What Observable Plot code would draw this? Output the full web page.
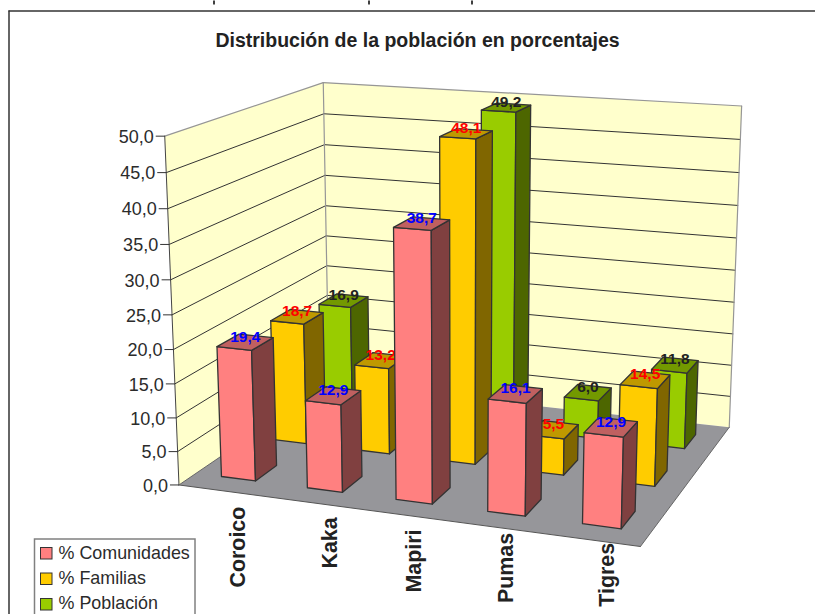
<!DOCTYPE html>
<html lang="es">
<head>
<meta charset="utf-8">
<script src="https://cdn.jsdelivr.net/npm/d3@7"></script>
<script src="https://cdn.jsdelivr.net/npm/@observablehq/plot@0.6"></script>
<style>html,body{margin:0;padding:0;background:#fff}svg{display:block}</style>
</head>
<body>
<div id="chart"></div>
<script>
// ---- data
const categories = ["Coroico", "Kaka", "Mapiri", "Pumas", "Tigres"];
const seriesNames = ["% Comunidades", "% Familias", "% Población"];
const comunidades = [19.4, 12.9, 38.7, 16.1, 12.9];
const familias = [18.7, 13.2, 48.1, 5.5, 14.5];
const poblacion = [16.9, 16.1, 49.2, 6.0, 11.8];
const yTicks = [0, 5, 10, 15, 20, 25, 30, 35, 40, 45, 50];
const title = "Distribución de la población en porcentajes";

// ---- styles
const W = 815, H = 614;
const font = "Liberation Sans, Arial, Helvetica, sans-serif";
const ink = "#2b2b2b";
const seriesFaces = [
  {front: "#FF8080", side: "#804040", top: "#C06060", label: "#0000FF"},
  {front: "#FFCC00", side: "#806600", top: "#BF9900", label: "#FF0000"},
  {front: "#99CC00", side: "#4D6600", top: "#739900", label: "#222222"}
];
// remains of a line of text cropped away above the frame: only three stems are left
const cropStems = [213.5, 368.5, 471.5];
const catNudge = [[16,16],[21,15],[14,15],[12,6],[16,3]];

// ---- perspective camera of the 3-D box, fitted to box and bar corners: [u, v, h] -> [px, py]
const calib = [
  [0,0,0,179,487],[1,0,0,639,546],[1,1,0,729,429],[0,1,0,328,380],
  [0,0,1,164,135],[1,1,1,741,105],[0,1,1,323,83],
  [.86,.1,.258,583,432],[.86,.1,0,581,522],[.94,.1,.258,624,437],[.94,.1,0,622,527],
  [.46,.1,.774,393,227]
];
function fitCamera(pts) {
  const A = [], b = [];
  for (const [X,Y,Z,x,y] of pts) {
    A.push([X,Y,Z,1,0,0,0,0,-x*X,-x*Y,-x*Z]); b.push(x);
    A.push([0,0,0,0,X,Y,Z,1,-y*X,-y*Y,-y*Z]); b.push(y);
  }
  const n = 11, M = [];
  for (let i = 0; i < n; i++) {
    const row = [];
    for (let j = 0; j < n; j++) row.push(d3.sum(A, r => r[i]*r[j]));
    row.push(d3.sum(A, (r,k) => r[i]*b[k]));
    M.push(row);
  }
  for (let i = 0; i < n; i++) {
    let p = i;
    for (let r = i+1; r < n; r++) if (Math.abs(M[r][i]) > Math.abs(M[p][i])) p = r;
    [M[i],M[p]] = [M[p],M[i]];
    for (let r = 0; r < n; r++) if (r !== i) {
      const f = M[r][i]/M[i][i];
      for (let c = i; c <= n; c++) M[r][c] -= f*M[i][c];
    }
  }
  return M.map((r,i) => r[n]/r[i]);
}
const cam = fitCamera(calib);
const hOf = d3.scaleLinear([0, 50], [0, 1]);
function project(u, v, value) {
  const h = hOf(value);
  const w = cam[8]*u + cam[9]*v + cam[10]*h + 1;
  return [(cam[0]*u + cam[1]*v + cam[2]*h + cam[3])/w, (cam[4]*u + cam[5]*v + cam[6]*h + cam[7])/w];
}
const poly = (corners, id, fill) =>
  [...corners, corners[0]].map(([u,v,val]) => { const [x,y] = project(u,v,val); return {x,y,id,fill}; });
const faceMark = (rows, stroke, strokeWidth) =>
  Plot.line(rows, {x:"x", y:"y", z:"id", fill:"fill", stroke: stroke ?? "none", strokeWidth: strokeWidth ?? 1, strokeLinejoin:"round"});

// ---- box
const yMax = d3.max(yTicks);
const walls = [
  faceMark(poly([[0,0,0],[0,1,0],[0,1,yMax],[0,0,yMax]],"leftWall","#FFFFCC")),
  faceMark(poly([[0,1,0],[1,1,0],[1,1,yMax],[0,1,yMax]],"backWall","#FFFFCC")),
  faceMark(poly([[0,0,0],[1,0,0],[1,1,0],[0,1,0]],"floor","#96969A"))
];
const seg = (a, b, stroke, strokeWidth) => Plot.line([project(...a), project(...b)], {x:d=>d[0], y:d=>d[1], stroke, strokeWidth});
const grid = yTicks.filter(t => t > 0).flatMap(t => t < yMax ? [
  seg([0,0,t],[0,1,t],"#333",1), seg([0,1,t],[1,1,t],"#333",1)
] : [
  seg([0,0,t],[0,1,t],"#969696",1.2), seg([0,1,t],[1,1,t],"#969696",1.2)
]);
const edges = [
  seg([0,0,0],[0,0,yMax],"#444",1),
  seg([0,1,0],[0,1,yMax],"#969696",1.2),
  seg([1,1,0],[1,1,yMax],"#969696",1.2),
  seg([0,0,0],[1,0,0],"#555",1),
  seg([0,0,0],[0,1,0],"#666",1),
  seg([1,0,0],[1,1,0],"#666",1)
];
const tickRows = yTicks.map(t => { const [x,y] = project(0,0,t); return {t,x,y}; });
const yAxis = [
  Plot.link(tickRows, {x1:d=>d.x-9, x2:"x", y1:"y", y2:"y", stroke:"#333", strokeWidth:1}),
  Plot.text(tickRows, {x:"x", y:"y", dx:-11, dy:1, text:d=>d.t.toFixed(1).replace(".",","), textAnchor:"end", lineAnchor:"middle", fontSize:18, fontFamily:font, fill:ink})
];

// ---- bars, painted from the back row to the front row
const rows = [comunidades, familias, poblacion];
const gapU = 0.3, gapV = 0.3;
function barMarks(value, i, j) {
  const u0 = (i+gapU)/categories.length, u1 = (i+1-gapU)/categories.length;
  const v0 = (j+gapV)/rows.length, v1 = (j+1-gapV)/rows.length;
  const c = seriesFaces[j], id = `${j}-${i}`;
  const faces = [
    ...poly([[u0,v0,0],[u1,v0,0],[u1,v0,value],[u0,v0,value]], id+"f", c.front),
    ...poly([[u1,v0,0],[u1,v1,0],[u1,v1,value],[u1,v0,value]], id+"s", c.side),
    ...poly([[u0,v0,value],[u1,v0,value],[u1,v1,value],[u0,v1,value]], id+"t", c.top)
  ];
  const [lx, ly] = project((u0+u1)/2, (v0+v1)/2, value);
  return [
    faceMark(faces, "#333", 1.3),
    Plot.text([{lx, ly, value}], {x:"lx", y:"ly", dy:-5.5, text:d=>d.value.toFixed(1).replace(".",","), lineAnchor:"middle", textAnchor:"middle", fontSize:15.5, fontWeight:"bold", fontFamily:font, fill:c.label})
  ];
}
const bars = d3.range(rows.length).reverse().flatMap(j => rows[j].map((v,i) => barMarks(v,i,j))).flat();

// ---- category labels under the front edge
const catRows = categories.map((name,i) => {
  const [x,y] = project((i+0.5)/categories.length, 0, 0);
  return {name, x: x + catNudge[i][0], y: y + catNudge[i][1]};
});
const catMark = Plot.text(catRows, {x:"x", y:"y", text:"name", rotate:-90, textAnchor:"end", lineAnchor:"middle", fontSize:21.4, fontWeight:"bold", fontFamily:font, fill:"#222"});

// ---- legend
const legendRows = seriesNames.map((name,k) => ({name, k, fill: seriesFaces[k].front}));
const legend = [
  Plot.rect([0], {x1:()=>34.5, x2:()=>195, y1:()=>539, y2:()=>640, fill:"#fff", stroke:"#808080", strokeWidth:1.5}),
  Plot.rect(legendRows, {x1:()=>40.5, x2:()=>52, y1:d=>547.5+d.k*25.5, y2:d=>559+d.k*25.5, fill:"fill", stroke:"#333", strokeWidth:1}),
  Plot.text(legendRows, {x:()=>58, y:d=>553+d.k*25, text:"name", textAnchor:"start", lineAnchor:"middle", fontSize:17.9, fontFamily:font, fill:ink})
];

const plot = Plot.plot({
  width: W, height: H,
  marginTop: 0, marginRight: 0, marginBottom: 0, marginLeft: 0,
  x: {domain:[0,W], range:[0,W], axis:null},
  y: {domain:[0,H], range:[0,H], axis:null},
  color: {type:"identity"},
  style: {background:"#fff", fontFamily:font},
  marks: [
    Plot.link(cropStems, {x1:d=>d, x2:d=>d, y1:()=>0, y2:()=>4, stroke:ink, strokeWidth:1.8}),
    Plot.ruleY([10.5], {x1:()=>8.5, x2:()=>W, stroke:"#333", strokeWidth:1.5}),
    Plot.ruleX([8.5], {y1:()=>10.5, y2:()=>H, stroke:"#333", strokeWidth:1.5}),
    Plot.text([title], {x:()=>417, y:()=>40, text:d=>d, textAnchor:"middle", lineAnchor:"middle", fontSize:19.5, fontWeight:"bold", fontFamily:font, fill:"#222"}),
    ...walls, ...grid, ...edges, ...yAxis, ...bars,
    catMark,
    ...legend
  ]
});
document.getElementById("chart").append(plot);
</script>
</body>
</html>
